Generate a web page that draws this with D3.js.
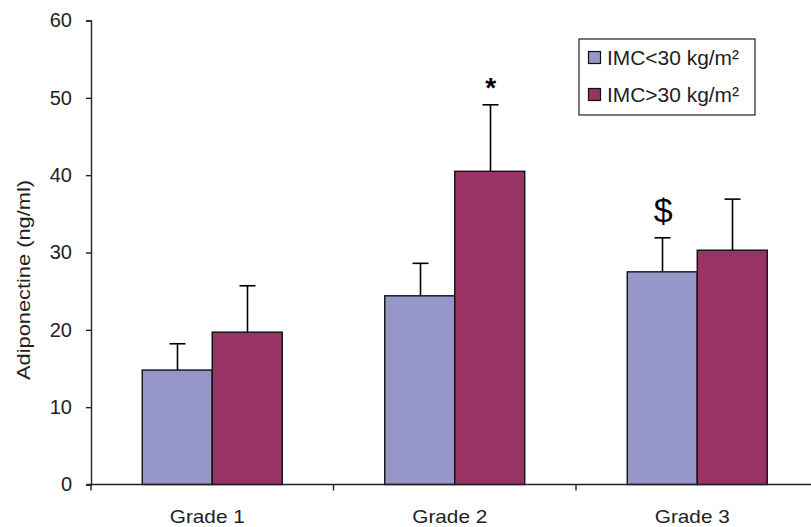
<!DOCTYPE html>
<html><head><meta charset="utf-8">
<script src="https://cdn.jsdelivr.net/npm/d3@7"></script>
<style>body{margin:0;background:#fff}svg{display:block;font-family:"Liberation Sans",Arial,sans-serif}</style>
</head><body>
<svg id="c" width="811" height="527"></svg>
<script>
const categories = ["Grade 1", "Grade 2", "Grade 3"];
const seriesNames = ["IMC<30 kg/m²", "IMC>30 kg/m²"];
const lowBMI = [14.8, 24.4, 27.5];
const lowBMIErr = [3.4, 4.2, 4.4];
const highBMI = [19.7, 40.5, 30.3];
const highBMIErr = [6.0, 8.6, 6.6];
const annotations = [{cat: "Grade 2", series: 1, text: "*"}, {cat: "Grade 3", series: 0, text: "$"}];
const yTicks = [0, 10, 20, 30, 40, 50, 60];
const colors = ["#9696c8", "#993366"];
const FONT = "Liberation Sans, Arial, sans-serif";

const svg = d3.select("#c");
const x0 = 91, x1 = 818.5, yTop = 20.5, yBot = 484.5;
const x = d3.scaleBand().domain(categories).range([x0, x1]).paddingInner(0).paddingOuter(0);
const y = d3.scaleLinear().domain([0, 60]).range([yBot, yTop]);
const bw = 70;
const sx = d3.scaleBand().domain([0, 1]).range([-bw, bw]);

const data = [];
categories.forEach((c, i) => {
  data.push({cat: c, s: 0, v: lowBMI[i], e: lowBMIErr[i]});
  data.push({cat: c, s: 1, v: highBMI[i], e: highBMIErr[i]});
});
const cx = d => x(d.cat) + x.bandwidth() / 2 + sx(d.s);

// error bars
const eg = svg.append("g").attr("stroke", "#000").attr("stroke-width", 1.6);
data.forEach(d => {
  const mx = Math.round(cx(d) + sx.bandwidth() / 2) + 0.5;
  eg.append("line").attr("x1", mx).attr("x2", mx).attr("y1", y(d.v)).attr("y2", y(d.v + d.e));
  eg.append("line").attr("x1", mx - 8).attr("x2", mx + 8).attr("y1", y(d.v + d.e)).attr("y2", y(d.v + d.e));
});

// bars
svg.append("g").selectAll("rect").data(data).join("rect")
  .attr("x", d => cx(d))
  .attr("y", d => y(d.v))
  .attr("width", sx.bandwidth())
  .attr("height", d => y(0) - y(d.v))
  .attr("fill", d => colors[d.s])
  .attr("stroke", "#111").attr("stroke-width", 1.4);

// annotations
annotations.forEach(a => {
  const i = categories.indexOf(a.cat);
  const v = a.series === 0 ? lowBMI[i] + lowBMIErr[i] : highBMI[i] + highBMIErr[i];
  const d = {cat: a.cat, s: a.series};
  svg.append("text")
    .attr("x", cx(d) + sx.bandwidth() / 2 + 1)
    .attr("y", y(v) - (a.text === "*" ? 8 : 16))
    .attr("text-anchor", "middle")
    .attr("font-size", a.text === "*" ? 28 : 34)
    .attr("font-weight", a.text === "*" ? "bold" : "normal")
    .attr("font-family", FONT)
    .attr("fill", "#000")
    .text(a.text);
});

// y axis
const ya = svg.append("g").attr("transform", `translate(${x0},0)`)
  .call(d3.axisLeft(y).tickValues(yTicks).tickSize(5).tickPadding(14));
ya.select(".domain").attr("stroke", "#222").attr("stroke-width", 1.4);
ya.selectAll(".tick line").attr("stroke", "#222").attr("stroke-width", 1.4);
ya.selectAll(".tick text").attr("font-size", 20).attr("fill", "#222").attr("font-family", FONT);

// x axis
const xa = svg.append("g").attr("transform", `translate(0,${yBot})`)
  .call(d3.axisBottom(x).tickSize(0).tickPadding(0));
xa.select(".domain").attr("stroke", "#222").attr("stroke-width", 1.4)
  .attr("d", `M${x0 - 4},0H${x1}`);
xa.selectAll(".tick text")
  .attr("font-size", 19).attr("fill", "#222").attr("font-family", FONT)
  .attr("dy", null).attr("y", 38.5).attr("x", -5)
  .attr("textLength", 75).attr("lengthAdjust", "spacingAndGlyphs");
// category boundary ticks
svg.append("g").selectAll("line").data(categories).join("line")
  .attr("x1", d => x(d)).attr("x2", d => x(d))
  .attr("y1", yBot).attr("y2", yBot + 6)
  .attr("stroke", "#222").attr("stroke-width", 1.4);

// y label
svg.append("text")
  .attr("transform", "translate(30,280) rotate(-90)")
  .attr("text-anchor", "middle")
  .attr("font-size", 18).attr("fill", "#222").attr("font-family", FONT)
  .attr("textLength", 200).attr("lengthAdjust", "spacingAndGlyphs")
  .text("Adiponectine (ng/ml)");

// legend
const lg = svg.append("g").attr("transform", "translate(579,39)");
lg.append("rect").attr("width", 176).attr("height", 76).attr("fill", "#fff").attr("stroke", "#222").attr("stroke-width", 1.2);
seriesNames.forEach((n, i) => {
  const gy = 19 + i * 37;
  lg.append("rect").attr("x", 9.5).attr("y", gy - 6.5).attr("width", 12).attr("height", 12)
    .attr("fill", colors[i]).attr("stroke", "#111").attr("stroke-width", 1.2);
  lg.append("text").attr("x", 28).attr("y", gy + 7)
    .attr("font-size", 20).attr("fill", "#222").attr("font-family", FONT)
    .attr("textLength", 132).attr("lengthAdjust", "spacingAndGlyphs")
    .text(n);
});
</script>
</body></html>
